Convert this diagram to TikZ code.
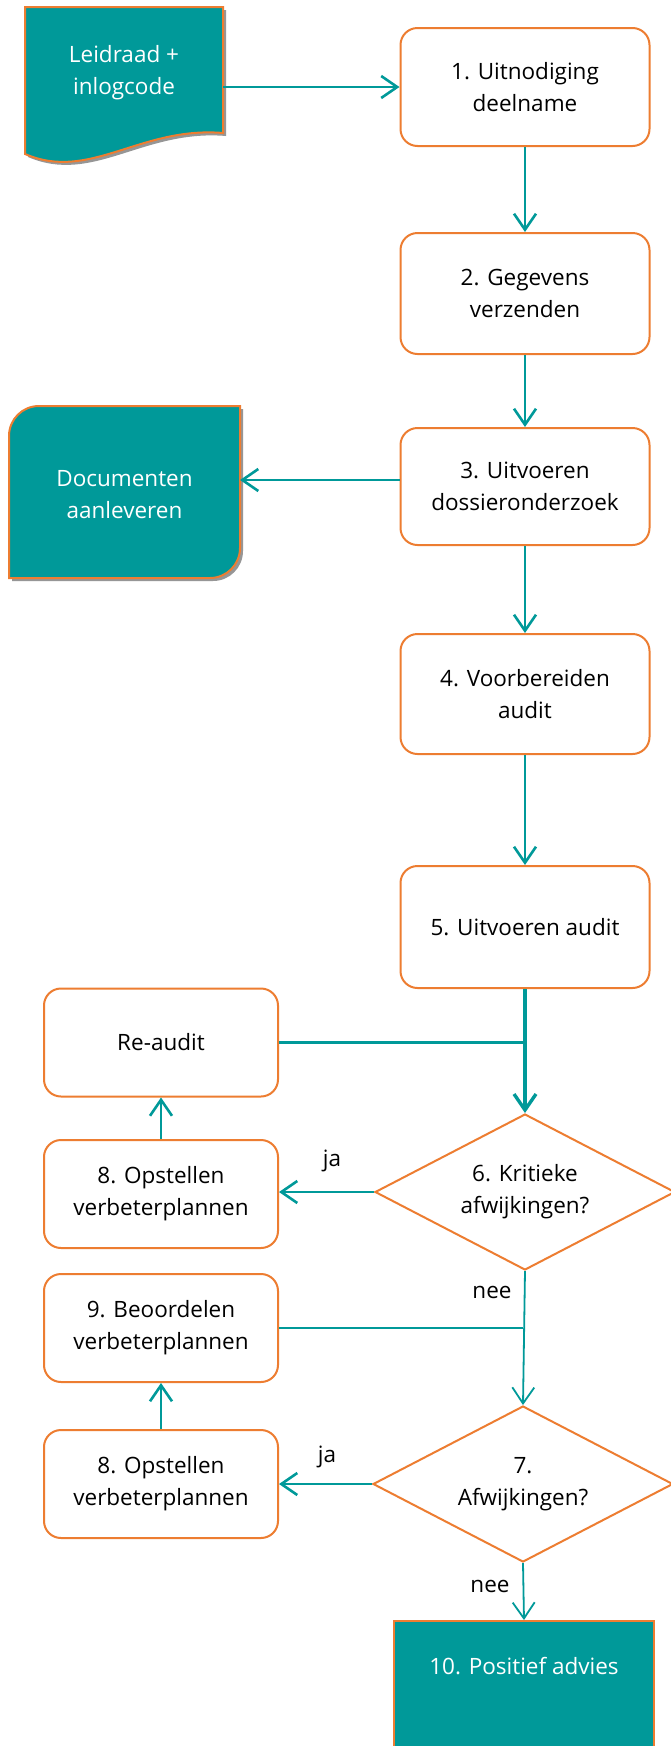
\documentclass[tikz,border=0pt]{standalone}
\usepackage{fontspec}
\setmainfont{Open Sans}
\usetikzlibrary{shapes.geometric,arrows.meta}
\definecolor{myteal}{RGB}{0,153,153}
\definecolor{myorange}{RGB}{237,125,49}
\definecolor{shadowgray}{RGB}{150,150,150}
\newcommand{\mainsize}{\fontsize{22.5}{32}\selectfont}
\tikzset{
  box/.style={draw=myorange, line width=2pt, fill=white, rounded corners=17pt,
    minimum width=249pt, align=center, inner sep=0pt, font=\mainsize, text=black},
  lbox/.style={box, minimum width=234pt, minimum height=108pt},
  dia/.style={diamond, aspect=2, draw=myorange, line width=2pt, fill=white,
    minimum width=300pt, minimum height=156pt, inner sep=0pt, align=center, font=\mainsize},
  wtext/.style={align=center, font=\mainsize, text=white, inner sep=0pt},
  lab/.style={font=\mainsize, inner sep=0pt, text=black},
  arr/.style={draw=myteal, line width=2.6pt, -{Straight Barb[length=16pt,width=22pt]}},
  thinarr/.style={draw=myteal, line width=1.8pt, -{Straight Barb[length=16pt,width=22pt]}},
  conn/.style={draw=myteal, line width=2.6pt}
}
\begin{document}
\begin{tikzpicture}[x=1pt,y=-1pt]
\useasboundingbox (0,0) rectangle (671,1746);
\fill[white] (0,0) rectangle (671,1746);
% Leidraad document shape
\fill[shadowgray, xshift=3pt, yshift=-3pt] (25,7) -- (223,7) -- (223,133) .. controls (140,126) and (90,182) .. (25,154) -- cycle;
\filldraw[fill=myteal, draw=myorange, line width=2pt] (25,7) -- (223,7) -- (223,133) .. controls (140,126) and (90,182) .. (25,154) -- cycle;
\node[wtext] (lei) at (124,73) {Leidraad +\\inlogcode};
\coordinate (leiR) at (223,87);
% Documenten shape
\fill[shadowgray, xshift=3pt, yshift=-3pt] (9,578) -- (9,436) .. controls (9,419.4) and (22.4,406) .. (39,406) -- (240,406) -- (240,548) .. controls (240,564.6) and (226.6,578) .. (210,578) -- cycle;
\filldraw[fill=myteal, draw=myorange, line width=2pt] (9,578) -- (9,436) .. controls (9,419.4) and (22.4,406) .. (39,406) -- (240,406) -- (240,548) .. controls (240,564.6) and (226.6,578) .. (210,578) -- cycle;
\node[wtext] (doc) at (124.5,495) {Documenten\\aanleveren};
\coordinate (docR) at (240,480);
% right column
\node[box, minimum height=118pt] (b1) at (525,87) {1. Uitnodiging\\deelname};
\node[box, minimum height=121pt] (b2) at (525,293.5) {2. Gegevens\\verzenden};
\node[box, minimum height=117pt] (b3) at (525,486.5) {3. Uitvoeren\\dossieronderzoek};
\node[box, minimum height=120pt] (b4) at (525,694) {4. Voorbereiden\\audit};
\node[box, minimum height=122pt] (b5) at (525,927) {5. Uitvoeren audit};
\node[dia] (d6) at (525,1192) {6. Kritieke\\afwijkingen?};
\node[dia] (d7) at (523,1484) {7.\\Afwijkingen?};
\node[draw=myorange, line width=2pt, fill=myteal, minimum width=260pt, minimum height=150pt, anchor=north, inner sep=0pt] (b10) at (524,1620) {};
\node[wtext] (t10) at (524,1666) {10. Positief advies};
% left column
\node[lbox] (ra) at (161,1042.5) {Re-audit};
\node[lbox] (o8a) at (161,1194) {8. Opstellen\\verbeterplannen};
\node[lbox] (b9) at (161,1328) {9. Beoordelen\\verbeterplannen};
\node[lbox] (o8b) at (161,1484) {8. Opstellen\\verbeterplannen};
% labels
\node[lab] (ja1) at (332,1161) {ja};
\node[lab] (ja2) at (327,1457) {ja};
\node[lab] (nee1) at (492,1292) {nee};
\node[lab] (nee2) at (490,1586) {nee};
% connectors
\draw[arr] (leiR) -- (b1.west |- leiR);
\draw[arr] (b1.south) -- (b2.north);
\draw[arr] (b2.south) -- (b3.north);
\draw[arr] (b3.west |- docR) -- (docR);
\draw[arr] (b3.south) -- (b4.north);
\draw[arr] (b4.south) -- (b5.north);
\draw[conn] (ra.east) -- (ra.east -| d6.north);
\draw[arr, line width=3.4pt] (b5.south) -- (d6.north);
\draw[arr] (o8a.north) -- (ra.south);
\draw[arr] (d6.west) -- (d6.west -| o8a.east);
\draw[conn] (b9.east) -- (b9.east -| d7.north);
\draw[thinarr] (d6.south) -- (d7.north);
\draw[arr] (o8b.north) -- (b9.south);
\draw[arr] (d7.west) -- (d7.west -| o8b.east);
\draw[thinarr] (d7.south) -- (b10.north);
\end{tikzpicture}
\end{document}
